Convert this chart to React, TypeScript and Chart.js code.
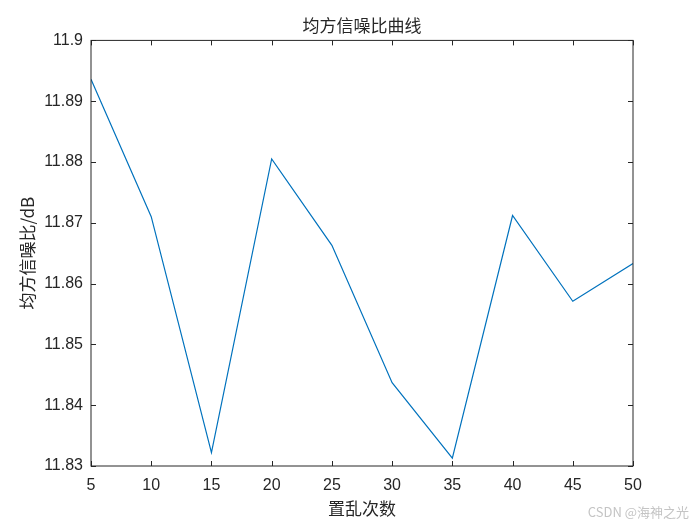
import React, { useEffect, useRef } from "react";
import { Chart, registerables } from "chart.js";

Chart.register(...registerables);

// 置乱次数
const scrambleCounts = [5, 10, 15, 20, 25, 30, 35, 40, 45, 50];
// 均方信噪比 (dB)
const msnrValues = [
  11.8936, 11.8710, 11.8322, 11.8805, 11.8663, 11.8437, 11.8313, 11.8712,
  11.8571, 11.8633,
];
const xTicks = [5, 10, 15, 20, 25, 30, 35, 40, 45, 50];
const yTicks = [11.83, 11.84, 11.85, 11.86, 11.87, 11.88, 11.89, 11.9];

const axisColor = "#262626";
const tickFont = { family: "'Liberation Sans', Arial, sans-serif", size: 16 };
const cjkFont = { family: "'Noto Sans CJK SC', sans-serif", size: 17 };

// matlab-style box with inward ticks + watermark
const boxPlugin = {
  id: "matlabBox",
  afterDraw(chart: any) {
    const { ctx, chartArea, scales } = chart;
    const { left, right, top, bottom } = chartArea;
    const len = 5;
    ctx.save();
    ctx.strokeStyle = axisColor;
    ctx.lineWidth = 1;
    ctx.strokeRect(left, top, right - left, bottom - top);
    ctx.beginPath();
    xTicks.forEach((v) => {
      const px = Math.round(scales.x.getPixelForValue(v)) + 0.5;
      ctx.moveTo(px, bottom);
      ctx.lineTo(px, bottom - len);
      ctx.moveTo(px, top);
      ctx.lineTo(px, top + len);
    });
    yTicks.forEach((v) => {
      const py = Math.round(scales.y.getPixelForValue(v)) + 0.5;
      ctx.moveTo(left, py);
      ctx.lineTo(left + len, py);
      ctx.moveTo(right, py);
      ctx.lineTo(right - len, py);
    });
    ctx.stroke();
    // watermark
    ctx.fillStyle = "#c4c4c4";
    ctx.font = "13px 'Noto Sans CJK SC', sans-serif";
    ctx.textAlign = "right";
    ctx.textBaseline = "middle";
    ctx.fillText("CSDN @海神之光", 689, 512);
    ctx.restore();
  },
};

const App: React.FC = () => {
  const canvasRef = useRef<HTMLCanvasElement>(null);
  const chartRef = useRef<Chart | null>(null);

  useEffect(() => {
    if (!canvasRef.current) return;
    chartRef.current = new Chart(canvasRef.current, {
      type: "line",
      data: {
        datasets: [
          {
            label: "均方信噪比",
            data: scrambleCounts.map((x, i) => ({ x, y: msnrValues[i] })),
            borderColor: "#0072BD",
            borderWidth: 1.2,
            pointRadius: 0,
            tension: 0,
            fill: false,
          },
        ],
      },
      options: {
        animation: false,
        responsive: true,
        maintainAspectRatio: false,
        layout: { padding: { left: 0, right: 67, top: 0, bottom: 0 } },
        plugins: {
          legend: { display: false },
          tooltip: { enabled: false },
          title: {
            display: true,
            text: "均方信噪比曲线",
            color: axisColor,
            font: { ...cjkFont, weight: "normal" },
            fullSize: false,
            padding: { top: 15, bottom: 5 },
          },
        },
        scales: {
          x: {
            type: "linear",
            min: 5,
            max: 50,
            afterFit: (scale: any) => {
              scale.height = 59;
            },
            afterBuildTicks: (scale: any) => {
              scale.ticks = xTicks.map((value) => ({ value }));
            },
            grid: { display: false, drawTicks: false },
            border: { display: false },
            ticks: {
              color: axisColor,
              font: tickFont,
              padding: 10,
              maxRotation: 0,
              autoSkip: false,
            },
            title: {
              display: true,
              text: "置乱次数",
              color: axisColor,
              font: cjkFont,
              padding: { top: 0, bottom: 6 },
            },
          },
          y: {
            type: "linear",
            min: 11.83,
            max: 11.9,
            afterFit: (scale: any) => {
              scale.width = 91;
            },
            afterBuildTicks: (scale: any) => {
              scale.ticks = yTicks.map((value) => ({ value }));
            },
            grid: { display: false, drawTicks: false },
            border: { display: false },
            ticks: {
              color: axisColor,
              font: tickFont,
              padding: 8,
              autoSkip: false,
              callback: (v: any) => String(Number(Number(v).toFixed(2))),
            },
            title: {
              display: true,
              text: "均方信噪比/dB",
              color: axisColor,
              font: cjkFont,
              padding: { top: 17, bottom: 0 },
            },
          },
        },
      },
      plugins: [boxPlugin],
    });
    return () => {
      chartRef.current?.destroy();
      chartRef.current = null;
    };
  }, []);

  return (
    <div
      style={{
        position: "absolute",
        left: 0,
        top: 0,
        width: 700,
        height: 525,
        background: "#ffffff",
      }}
    >
      <canvas ref={canvasRef} />
    </div>
  );
};

export default App;
